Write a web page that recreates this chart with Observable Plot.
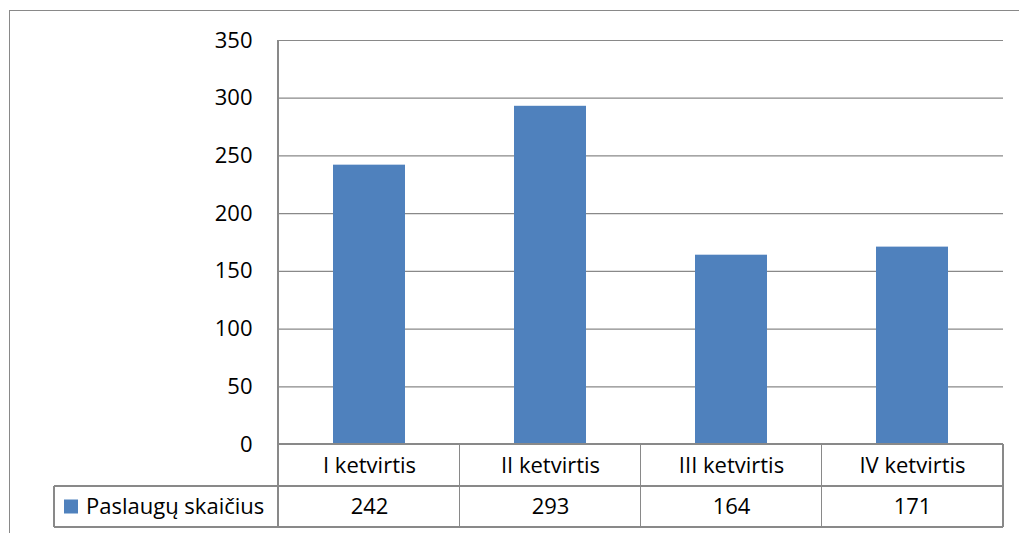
<!DOCTYPE html>
<html>
<head>
<meta charset="utf-8">
<script src="https://cdn.jsdelivr.net/npm/d3@7"></script>
<script src="https://cdn.jsdelivr.net/npm/@observablehq/plot@0.6"></script>
<style>
  html, body { margin: 0; padding: 0; background: #fff; }
  #chart { width: 1019px; height: 533px; overflow: hidden; }
</style>
</head>
<body>
<div id="chart"></div>
<script>
const categories = ["I ketvirtis", "II ketvirtis", "III ketvirtis", "IV ketvirtis"];
const values = [242, 293, 164, 171];
const seriesName = "Paslaugų skaičius";
const yTicks = [0, 50, 100, 150, 200, 250, 300, 350];

const data = categories.map((c, i) => ({category: c, value: values[i]}));

const FONT = "'Open Sans', Lato, sans-serif";
const FS = 22;
const GRID = "#898989";
const BAR = "#4F81BD";

const chart = Plot.plot({
  width: 1019,
  height: 533,
  marginLeft: 278,
  marginRight: 16,
  marginTop: 40,
  marginBottom: 89,
  style: {fontFamily: FONT, fontSize: FS + "px", color: "#000", background: "#fff"},
  x: {domain: categories, paddingInner: 0.6, paddingOuter: 0.3, axis: null},
  y: {domain: [0, 350], axis: null},
  marks: [
    Plot.gridY(yTicks, {stroke: GRID, strokeOpacity: 1, strokeWidth: 1.2}),
    Plot.barY(data, {x: "category", y: "value", fill: BAR}),
    Plot.axisY(yTicks, {tickSize: 0, tickPadding: 26, fontSize: FS, label: null, fill: "#000"}),
    Plot.text(data, {x: "category", y: () => 0, text: "category", dy: 21, fontSize: FS, fill: "#000"}),
    Plot.text(data, {x: "category", y: () => 0, text: d => String(d.value), dy: 62, fontSize: FS, fill: "#000"})
  ]
});

document.getElementById("chart").appendChild(chart);

// Data-table grid and legend drawn from the plot's own scales
const sx = chart.scale("x");
const sy = chart.scale("y");
const x0 = sx.range[0];
const x1 = sx.range[1];
const step = (x1 - x0) / categories.length;
const yBase = sy.apply(0);
const yTop = sy.apply(350);
const row1 = yBase + 42;
const row2 = yBase + 83;
const tableLeft = 54;

const svg = d3.select(chart);
const g = svg.append("g").attr("stroke", GRID).attr("stroke-width", 1.2).attr("fill", "none").attr("shape-rendering", "crispEdges");

// axis line + table left border of first category column
g.append("line").attr("x1", x0).attr("x2", x0).attr("y1", yTop).attr("y2", row2);
// baseline
g.append("line").attr("x1", x0).attr("x2", x1).attr("y1", yBase).attr("y2", yBase);
// column separators
for (let i = 1; i <= categories.length; i++) {
  const xx = x0 + step * i;
  g.append("line").attr("x1", xx).attr("x2", xx).attr("y1", yBase).attr("y2", row2);
}
// row lines
g.append("line").attr("x1", tableLeft).attr("x2", x1).attr("y1", row1).attr("y2", row1);
g.append("line").attr("x1", tableLeft).attr("x2", x1).attr("y1", row2).attr("y2", row2);
g.append("line").attr("x1", tableLeft).attr("x2", tableLeft).attr("y1", row1).attr("y2", row2);

// outer chart border (left and top)
g.append("line").attr("x1", 9.5).attr("x2", 9.5).attr("y1", 10).attr("y2", 533);
g.append("line").attr("x1", 9).attr("x2", 1019).attr("y1", 10.5).attr("y2", 10.5);

// legend key + series name
svg.append("rect").attr("x", 64).attr("y", (row1 + row2) / 2 - 7).attr("width", 14).attr("height", 14).attr("fill", BAR);
svg.append("text").attr("x", 86).attr("y", (row1 + row2) / 2).attr("dy", "0.35em")
  .attr("text-anchor", "start")
  .attr("font-family", FONT).attr("font-size", FS).attr("fill", "#000").text(seriesName);
</script>
</body>
</html>
